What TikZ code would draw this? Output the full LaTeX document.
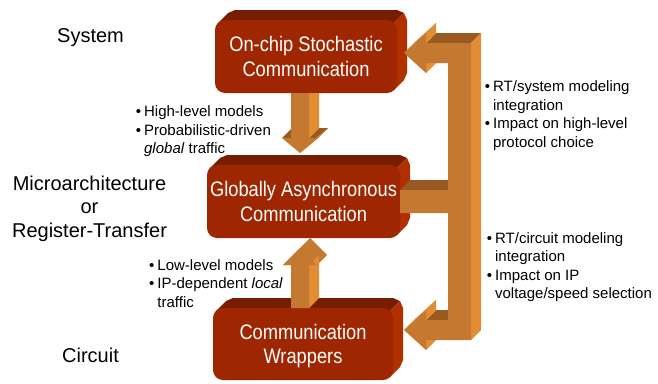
\documentclass[tikz,border=0pt]{standalone}
\usepackage{fontspec}
\setmainfont{Liberation Sans}
\newfontfamily\chipfont[FakeStretch=0.87]{Liberation Sans}
\usetikzlibrary{calc,backgrounds}
\definecolor{chipfront}{RGB}{158,38,0}
\definecolor{chiptop}{RGB}{120,30,0}
\definecolor{chipside}{RGB}{178,48,0}
\definecolor{arrfront}{RGB}{197,120,48}
\definecolor{arrside}{RGB}{226,140,52}
\definecolor{arrtop}{RGB}{152,90,32}
\newcommand\itm{\textbullet\hspace{3pt}}
\newcommand\noitm{\hphantom{\itm}}
\begin{document}
\begin{tikzpicture}[x=1pt,y=-1pt,
    chip/.style={fill=chipfront,text=white,rounded corners=10pt,inner sep=0pt,
        outer sep=0pt,minimum height=73pt,align=center,
        font=\chipfont\fontsize{21}{24.5}\selectfont},
    lvl/.style={inner sep=0pt,font=\fontsize{20}{23.5}\selectfont},
    note/.style={inner sep=0pt,align=left,anchor=north west,
        font=\fontsize{15}{18.5}\selectfont}]
    \useasboundingbox (0,0) rectangle (658,383);
    % the three levels
    \node[chip,minimum width=182pt] (sys) at (306,56.5)
        {On-chip Stochastic\\Communication};
    \node[chip,minimum width=193pt] (gals) at (303.5,201.5)
        {Globally Asynchronous\\Communication};
    \node[chip,minimum width=180pt,minimum height=72pt] (wrap) at (303,344)
        {Communication\\\raisebox{0pt}[\height][0pt]{Wrappers}};
    % depth of the boxes
    \begin{scope}[on background layer]
        \foreach \b in {sys,gals,wrap} {
            \fill[chiptop] ($(\b.north west)+(3,3)$) -- ($(\b.north west)+(13,-7)$)
                -- ($(\b.north west)+(20,-10)$) -- ($(\b.north east)+(0,-10)$)
                -- ($(\b.north east)+(7,-7)$) -- ($(\b.north east)+(-3,3)$) -- cycle;
            \fill[chipside] ($(\b.north east)+(-3,3)$) -- ($(\b.north east)+(7,-7)$)
                -- ($(\b.north east)+(10,0)$) -- ($(\b.south east)+(10,-20)$)
                -- ($(\b.south east)+(7,-13)$) -- ($(\b.south east)+(-3,-3)$) -- cycle;
        }
    \end{scope}
    % level names
    \node[lvl,anchor=base] (lsys) at (90.5,42) {System};
    \node[lvl,anchor=north,align=center] (lrt) at (89.5,175.5)
        {Microarchitecture\\or\\Register-Transfer};
    \node[lvl,anchor=base] (lcir) at (90.5,362) {Circuit};
    % arrow down
    \coordinate (dn) at ($(sys.south)+(-6,0)$);
    \begin{scope}[shift={(dn)}]
        \fill[arrtop] (9,45) -- (19,35) -- (28,35) -- (18,45) -- cycle;
        \fill[arrtop] (-18,45) -- (-8,35) -- (1,35) -- (-9,45) -- cycle;
        \fill[arrside] (9,0) -- (19,0) -- (19,35) -- (9,45) -- cycle;
        \fill[arrside] (18,45) -- (28,35) -- (10,50) -- (0,60) -- cycle;
        \fill[arrfront] (-9,0) -- (-9,45) -- (-18,45) -- (0,60) -- (18,45)
            -- (9,45) -- (9,0) -- cycle;
    \end{scope}
    % arrow up
    \coordinate (up) at ($(wrap.north)+(-3,0)$);
    \begin{scope}[shift={(up)}]
        \fill[arrfront] (-7,-53) -- (10,-70) -- (27,-53) -- (17,-43) -- (-17,-43) -- cycle;
        \fill[arrside] (9,0) -- (19,-10) -- (19,-53) -- (9,-43) -- cycle;
        \fill[arrfront] (-9,0) -- (-9,-43) -- (-17,-43) -- (0,-60) -- (17,-43)
            -- (9,-43) -- (9,0) -- cycle;
    \end{scope}
    % feedback bracket on the right
    \coordinate (br) at ($(sys.east)+(7,-3.5)$);
    \begin{scope}[shift={(br)}]
        \fill[arrtop] (22,-10) -- (32,-20) -- (77,-20) -- (67,-10) -- cycle;
        \fill[arrtop] (-4,137) -- (6,127) -- (54,127) -- (44,137) -- cycle;
        \fill[arrtop] (22,267) -- (32,257) -- (54,257) -- (44,267) -- cycle;
        \fill[arrside] (67,-10) -- (77,-20) -- (77,277) -- (67,287) -- cycle;
        \fill[arrside] (22,-20) -- (32,-30) -- (32,-20) -- (22,-10) -- cycle;
        \fill[arrside] (22,10) -- (32,0) -- (32,10) -- (22,20) -- cycle;
        \fill[arrside] (22,257) -- (32,247) -- (32,257) -- (22,267) -- cycle;
        \fill[arrside] (22,287) -- (32,277) -- (32,287) -- (22,297) -- cycle;
        \fill[arrfront] (0,0) -- (22,-20) -- (32,-30) -- (10,-10) -- cycle;
        \fill[arrfront] (0,277) -- (22,257) -- (32,247) -- (10,267) -- cycle;
        \fill[arrfront] (0,0) -- (22,-20) -- (22,-10) -- (67,-10) -- (67,287)
            -- (22,287) -- (22,297) -- (0,277) -- (22,257) -- (22,267)
            -- (44,267) -- (44,160) -- (-4,160) -- (-4,137) -- (44,137)
            -- (44,10) -- (22,10) -- (22,20) -- cycle;
    \end{scope}
    % notes
    \node[note] (hl) at (135.7,105.8)
        {\itm High-level models\\\itm Probabilistic-driven\\\noitm\textit{global} traffic};
    \node[note] (ll) at (149,259.1)
        {\itm Low-level models\\\itm IP-dependent \textit{local}\\\noitm traffic};
    \node[note] (rs) at (484.7,80.8)
        {\itm RT/system modeling\\\noitm integration\\\itm Impact on high-level\\\noitm protocol choice};
    \node[note] (rc) at (486.7,232.1)
        {\itm RT/circuit modeling\\\noitm integration\\\itm Impact on IP\\\noitm voltage/speed selection};
\end{tikzpicture}
\end{document}
